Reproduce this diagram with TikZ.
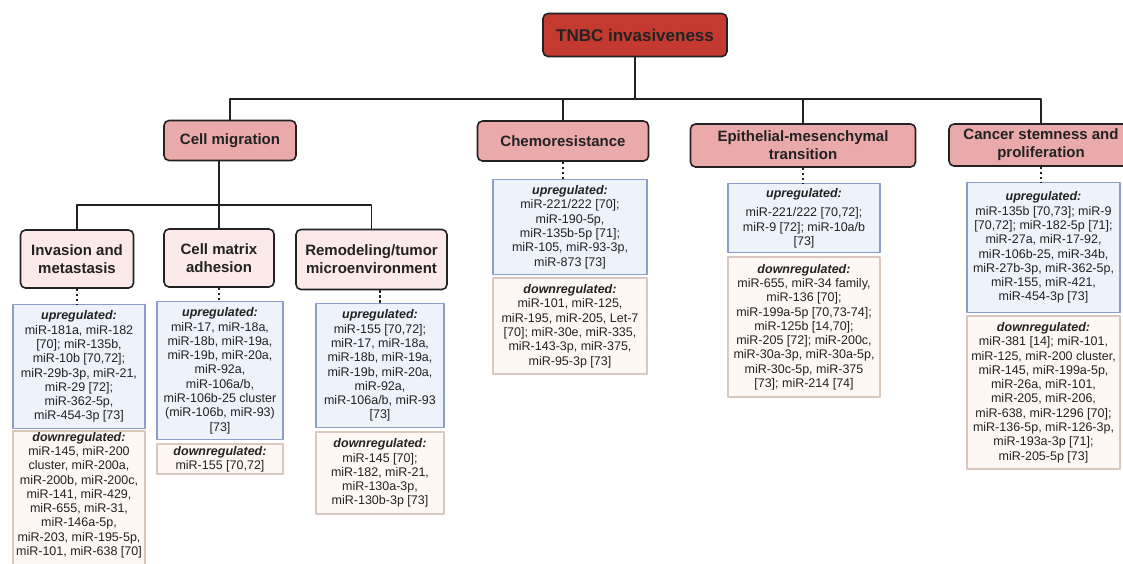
\documentclass[tikz,border=0pt]{standalone}
\usepackage{fontspec}
\setmainfont{Liberation Sans}
\usepackage{tikz}
\usetikzlibrary{positioning}
\definecolor{titlered}{HTML}{C43A30}
\definecolor{headpink}{HTML}{EBAAAA}
\definecolor{subpink}{HTML}{FCE9EA}
\definecolor{upfill}{HTML}{EEF2FA}
\definecolor{updraw}{HTML}{8D9DC9}
\definecolor{downfill}{HTML}{FEF8F4}
\definecolor{downdraw}{HTML}{D9C8BD}
\definecolor{ink}{HTML}{222222}
\tikzset{
    every picture/.style={line cap=round,line join=round},
    rootbox/.style={draw=ink,fill=titlered,line width=1.6pt,rounded corners=5pt,
      minimum width=184pt,minimum height=43pt,inner sep=2pt,
      font=\fontsize{17}{20}\selectfont\bfseries,text=ink},
    catbox/.style={draw=ink,fill=headpink,line width=1.6pt,rounded corners=5pt,
      minimum height=40pt,inner sep=2pt,
      font=\fontsize{15}{18}\selectfont\bfseries,align=center,text=ink},
    subbox/.style={catbox,fill=subpink,minimum height=58pt},
    upbox/.style={draw=updraw,fill=upfill,line width=1.4pt,inner sep=2pt,anchor=north,
      font=\fontsize{12.5}{14.3}\selectfont,align=center,text=ink},
    downbox/.style={upbox,draw=downdraw,fill=downfill},
    link/.style={draw=ink,line width=1.6pt},
    stub/.style={draw=ink,line width=1.4pt,line cap=butt,dash pattern=on 2.5pt off 2.5pt}
}
\newcommand{\uphead}{\textbf{\textit{upregulated:}}\\}
\newcommand{\downhead}{\textbf{\textit{downregulated:}}\\}

\begin{document}
\begin{tikzpicture}[x=1pt,y=-1pt]
  \useasboundingbox (0,0) rectangle (1123,563);
  \clip (0,0) rectangle (1123,563);
  \coordinate (bar) at (0,99);
  \coordinate (fork) at (0,205);

  % top of the tree
  \node[rootbox] (root) at (635,35) {TNBC invasiveness};
  \node[catbox,minimum width=132pt] (mig) at (230,140.5) {Cell migration};
  \node[catbox,minimum width=171pt] (chemo) at (563,141) {Chemoresistance};
  \node[catbox,minimum width=225pt,minimum height=43pt] (emt) at (803,145.5)
    {Epithelial-mesenchymal\\transition};
  \node[catbox,minimum width=184pt,minimum height=42pt] (stem) at (1041,145)
    {Cancer stemness and\\proliferation};

  \node[subbox,minimum width=113pt] (inv) at (77,259) {Invasion and\\metastasis};
  \node[subbox,minimum width=110pt] (adh) at (219,258) {Cell matrix\\adhesion};
  \node[subbox,minimum width=151pt,minimum height=60pt] (remod) at (371.5,259.5)
    {Remodeling/tumor\\microenvironment};

  \draw[link] (root) -- (root |- bar);
  \draw[link] (mig.north) |- (stem.north |- bar) -- (stem.north);
  \draw[link] (chemo.north) -- (chemo.north |- bar);
  \draw[link] (emt.north) -- (emt.north |- bar);
  \draw[link] (adh.north |- mig.south) -- (adh.north);
  \draw[link] (inv.north) |- (remod.north |- fork) -- (remod.north);

  % up / down lists
  \node[upbox,minimum width=132pt,minimum height=124pt] (invup) at (79,304)
    {\uphead miR-181a, miR-182\\{}[70]; miR-135b,\\miR-10b [70,72];\\miR-29b-3p, miR-21,\\
     miR-29 [72];\\miR-362-5p,\\miR-454-3p [73]};
  \node[downbox,minimum width=132pt,inner ysep=1pt,text depth=20pt,below=1pt of invup] (invdown)
    {\downhead miR-145, miR-200\\cluster, miR-200a,\\miR-200b, miR-200c,\\miR-141, miR-429,\\
     miR-655, miR-31,\\miR-146a-5p,\\miR-203, miR-195-5p,\\miR-101, miR-638 [70]};

  \node[upbox,minimum width=126pt,minimum height=138pt] (adhup) at (220,301)
    {\uphead miR-17, miR-18a,\\miR-18b, miR-19a,\\miR-19b, miR-20a,\\miR-92a,\\miR-106a/b,\\
     miR-106b-25 cluster\\(miR-106b, miR-93)\\{}[73]};
  \node[downbox,minimum width=126pt,minimum height=27pt,below=3pt of adhup] (adhdown)
    {\downhead miR-155 [70,72]};

  \node[upbox,minimum width=128pt,minimum height=124pt] (remodup) at (380,303)
    {\uphead miR-155 [70,72];\\miR-17, miR-18a,\\miR-18b, miR-19a,\\miR-19b, miR-20a,\\
     miR-92a,\\miR-106a/b, miR-93\\{}[73]};
  \node[downbox,minimum width=128pt,minimum height=82pt,below=3pt of remodup] (remoddown)
    {\downhead miR-145 [70];\\miR-182, miR-21,\\miR-130a-3p,\\miR-130b-3p [73]};

  \node[upbox,minimum width=154pt,minimum height=95pt] (chemoup) at (570,179)
    {\uphead miR-221/222 [70];\\miR-190-5p,\\miR-135b-5p [71];\\miR-105, miR-93-3p,\\miR-873 [73]};
  \node[downbox,minimum width=154pt,minimum height=96pt,below=2pt of chemoup] (chemodown)
    {\downhead miR-101, miR-125,\\miR-195, miR-205, Let-7\\{}[70]; miR-30e, miR-335,\\
     miR-143-3p, miR-375,\\miR-95-3p [73]};

  \node[upbox,minimum width=152pt,minimum height=69pt] (emtup) at (804,183)
    {\textbf{\textit{upregulated:}}\\[5pt]miR-221/222 [70,72];\\miR-9 [72]; miR-10a/b\\{}[73]};
  \node[downbox,minimum width=152pt,minimum height=140pt,below=3pt of emtup] (emtdown)
    {\downhead miR-655, miR-34 family,\\miR-136 [70];\\miR-199a-5p [70,73-74];\\
     miR-125b [14,70];\\miR-205 [72]; miR-200c,\\miR-30a-3p, miR-30a-5p,\\
     miR-30c-5p, miR-375\\{}[73]; miR-214 [74]};

  \node[upbox,minimum width=153pt,minimum height=130pt] (stemup) at (1043.5,182)
    {\uphead miR-135b [70,73]; miR-9\\{}[70,72]; miR-182-5p [71];\\miR-27a, miR-17-92,\\
     miR-106b-25, miR-34b,\\miR-27b-3p, miR-362-5p,\\miR-155, miR-421,\\miR-454-3p [73]};
  \node[downbox,minimum width=153pt,minimum height=153pt,below=2pt of stemup] (stemdown)
    {\downhead miR-381 [14]; miR-101,\\miR-125, miR-200 cluster,\\miR-145, miR-199a-5p,\\
     miR-26a, miR-101,\\miR-205, miR-206,\\miR-638, miR-1296 [70];\\
     miR-136-5p, miR-126-3p,\\miR-193a-3p [71];\\miR-205-5p [73]};

  \draw[stub] (inv.south) -- (inv.south |- invup.north);
  \draw[stub] (adh.south) -- (adh.south |- adhup.north);
  \draw[stub] (remodup.north |- remod.south) -- (remodup.north);
  \draw[stub] (chemo.south) -- (chemo.south |- chemoup.north);
  \draw[stub] (emt.south) -- (emt.south |- emtup.north);
  \draw[stub] (stem.south) -- (stem.south |- stemup.north);
\end{tikzpicture}
\end{document}
